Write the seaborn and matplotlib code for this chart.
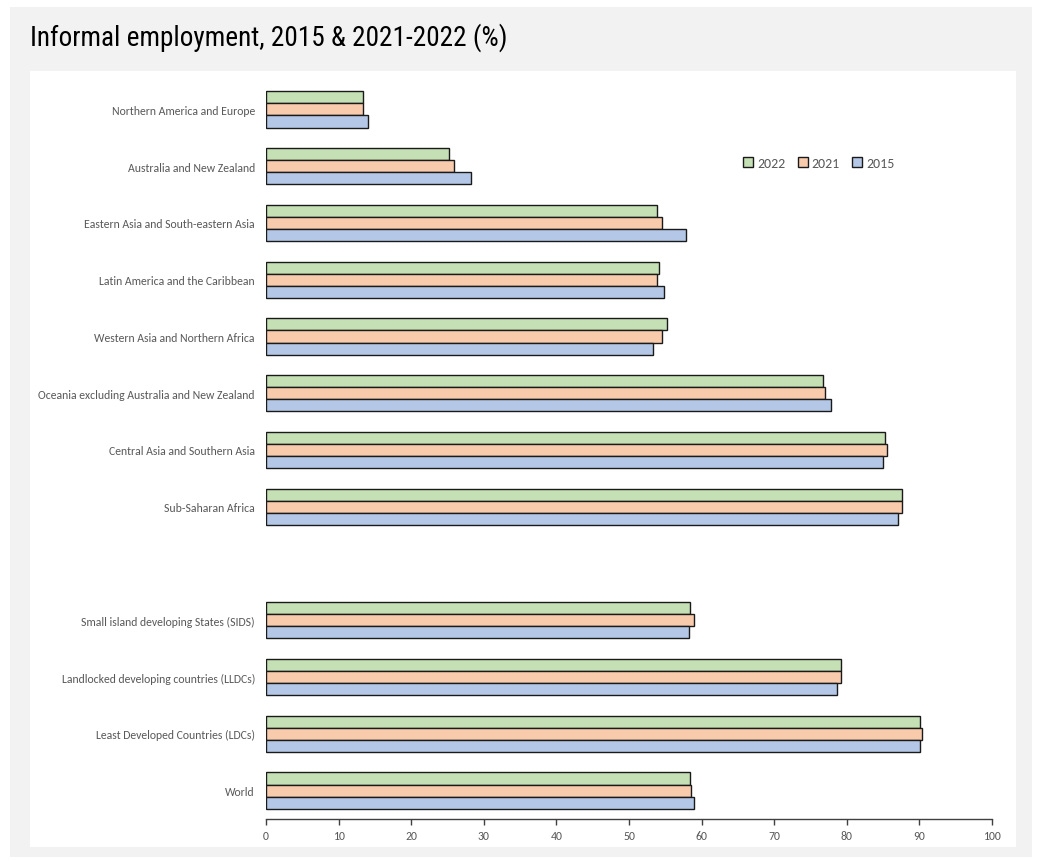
import matplotlib
matplotlib.use("Agg")
import matplotlib.pyplot as plt
from matplotlib.patches import Rectangle
import pandas as pd
import seaborn as sns

# Regions and groupings (blank entry separates the two blocks)
categories = [
    "Northern America and Europe",
    "Australia and New Zealand",
    "Eastern Asia and South-eastern Asia",
    "Latin America and the Caribbean",
    "Western Asia and Northern Africa",
    "Oceania excluding Australia and New Zealand",
    "Central Asia and Southern Asia",
    "Sub-Saharan Africa",
    "Small island developing States (SIDS)",
    "Landlocked developing countries (LLDCs)",
    "Least Developed Countries (LDCs)",
    "World",
]
gap_label = " "

years = ["2022", "2021", "2015"]
values_2022 = [13.3, 25.2, 53.9, 54.2, 55.3, 76.7, 85.2, 87.6, 58.4, 79.2, 90.1, 58.4]
values_2021 = [13.4, 25.9, 54.5, 53.9, 54.6, 77.0, 85.5, 87.6, 58.9, 79.2, 90.4, 58.6]
values_2015 = [14.0, 28.2, 57.8, 54.8, 53.3, 77.8, 85.0, 87.1, 58.2, 78.7, 90.1, 58.9]

x_ticks = [0, 10, 20, 30, 40, 50, 60, 70, 80, 90, 100]
title = "Informal employment, 2015 & 2021-2022 (%)"

colors = {"2022": "#c5e0b4", "2021": "#f8cbad", "2015": "#b4c7e7"}

df = pd.DataFrame({
    "region": categories * 3,
    "year": ["2022"] * 12 + ["2021"] * 12 + ["2015"] * 12,
    "value": values_2022 + values_2021 + values_2015,
})

order = categories[:8] + [gap_label] + categories[8:]

sns.set_theme(style="white")
plt.rcParams["font.family"] = ["Carlito", "DejaVu Sans"]

W, H = 1042, 862
fig = plt.figure(figsize=(W / 100, H / 100), dpi=100)
fig.patch.set_facecolor("white")

# Grey frame and white inner panel behind the chart
fig.patches.append(Rectangle((10 / W, 1 - 858 / H), (1032 - 10) / W, (858 - 8) / H,
                             transform=fig.transFigure, facecolor="#f2f2f2",
                             edgecolor="none", zorder=-2))
fig.patches.append(Rectangle((30 / W, 1 - 848 / H), (1016 - 30) / W, (848 - 72) / H,
                             transform=fig.transFigure, facecolor="white",
                             edgecolor="none", zorder=-1))

ax = fig.add_axes([266 / W, 1 - 820 / H, (992 - 266) / W, (820 - 82) / H])
ax.set_facecolor("none")

sns.barplot(
    data=df, x="value", y="region", hue="year", order=order, hue_order=years,
    palette=colors, orient="h", width=0.64, edgecolor="#1a1a1a", linewidth=1.0,
    saturation=1, ax=ax, legend=True,
)

ax.set_xlim(0, 100)
ax.set_xticks(x_ticks)
ax.set_xticklabels([str(t) for t in x_ticks])
ax.set_xlabel("")
ax.set_ylabel("")
for side in ["top", "right", "left"]:
    ax.spines[side].set_visible(False)
ax.spines["bottom"].set_color("#404040")
ax.spines["bottom"].set_linewidth(1.0)
ax.tick_params(axis="x", bottom=True, direction="out", length=4, width=1,
               color="#404040", labelsize=8.5, labelcolor="#595959", pad=4)
ax.tick_params(axis="y", left=False, labelsize=8.5, labelcolor="#595959", pad=2)
ax.grid(False)

leg = ax.legend(
    loc="center", bbox_to_anchor=(819 / W, 1 - 164 / H),
    bbox_transform=fig.transFigure, ncol=3, frameon=False, fontsize=10,
    handlelength=0.7, handleheight=0.7, handletextpad=0.3, columnspacing=0.9,
)
for t in leg.get_texts():
    t.set_color("#595959")

fig.text(30 / W, 1 - 38 / H, title, fontsize=19.6, va="center", ha="left",
         color="black", family=["Roboto Condensed", "DejaVu Sans"])

fig.savefig("out.png", dpi=100, facecolor=fig.get_facecolor())
